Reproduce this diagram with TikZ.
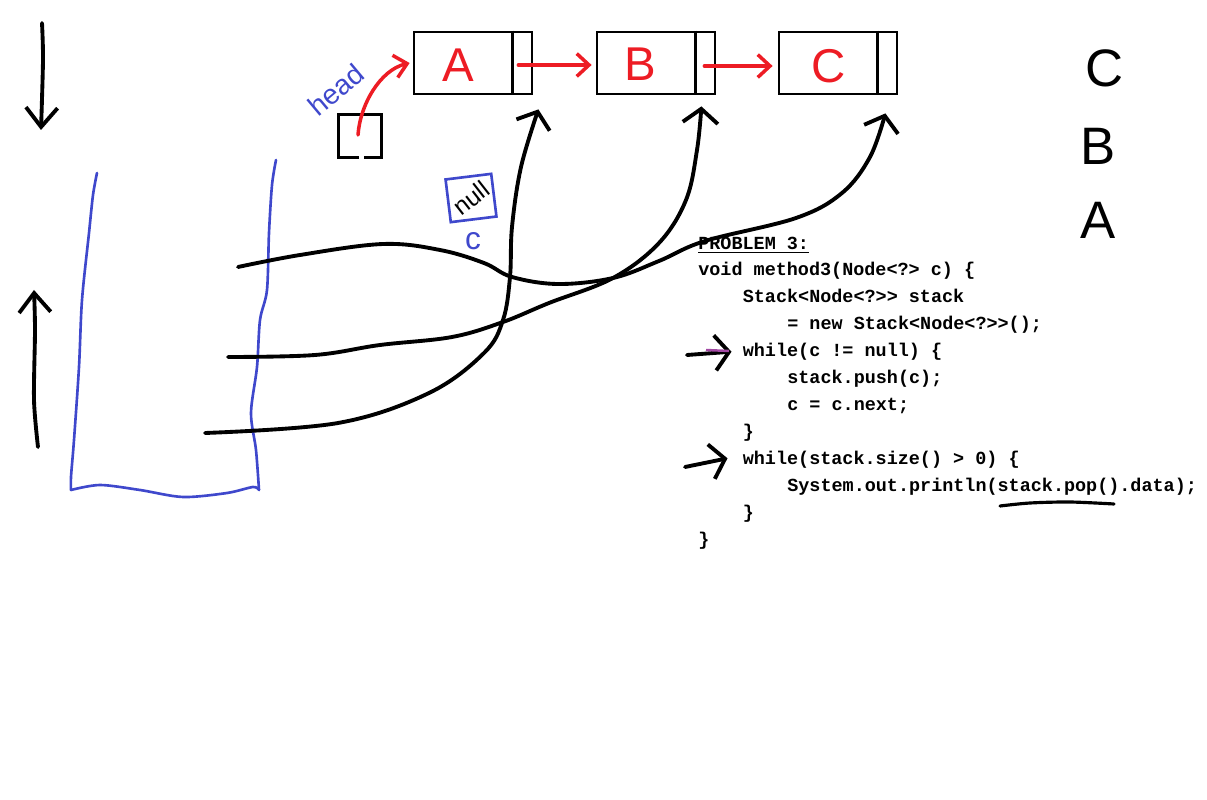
\documentclass[tikz,border=0pt]{standalone}
\usepackage{fontspec}
\setmonofont{Liberation Mono}
\newfontfamily\handfont{Liberation Sans}
\usetikzlibrary{arrows.meta,calc,positioning}
\definecolor{paintred}{RGB}{237,28,36}
\definecolor{paintblue}{RGB}{63,72,204}
\definecolor{paintpurple}{RGB}{163,73,164}

\begin{document}
\begin{tikzpicture}[x=0.02cm, y=-0.02cm,
  listnode/.style={draw, line width=1.6pt, minimum width=2.36cm, minimum height=1.24cm, inner sep=0pt},
  redletter/.style={text=paintred, font=\handfont\fontsize{27}{27}\selectfont},
  bigletter/.style={font=\handfont\fontsize{30}{30}\selectfont},
  pen/.style={line width=2.2pt, line cap=round, line join=round},
  bluepen/.style={draw=paintblue, line width=1.5pt, line cap=round, line join=round},
  redpen/.style={draw=paintred, line width=2pt, line cap=round, -{Straight Barb[length=7pt,width=13pt]}},
  barb/.style={-{Straight Barb[length=8pt,width=20pt]}},
  bigbarb/.style={-{Straight Barb[length=11pt,width=18pt]}},
  code/.style={font=\ttfamily\bfseries\fontsize{10.5}{12}\selectfont, anchor=base west, inner sep=0pt}]

\useasboundingbox (0,0) rectangle (1207,800);

% linked list
\node[listnode] (A) at (473,63) {};
\node[listnode] (B) at (656,63) {};
\node[listnode] (C) at (838,63) {};
\foreach \n in {A,B,C}
  \draw[line width=1.6pt] ($(\n.north east)+(-21,0)$) -- ($(\n.south east)+(-21,0)$);
\node[redletter] (la) at (458,65) {A};
\node[redletter] (lb) at (640,64) {B};
\node[redletter] (lc) at (829,66) {C};

\draw[redpen] ($(A.east)+(-15,2)$) -- ($(B.west)+(-4,2)$);
\draw[redpen] ($(B.east)+(-12,3)$) -- ($(C.west)+(-5,3)$);

% head pointer
\node[minimum size=0.84cm, inner sep=0pt] (headbox) at (360,136) {};
\draw[line width=1.6pt] ($(headbox.south)+(-1,0)$) -| (headbox.north west) -- (headbox.north east)
  |- ($(headbox.south)+(4,0)$);
\node[text=paintblue, rotate=40, font=\handfont\fontsize{16}{16}\selectfont] (headlbl) at (336,90) {head};
\draw[redpen] ($(headbox.center)+(-2,-1)$) .. controls (360,105) and (380,70) .. ($(A.west)+(-3,0)$);

% null and c
\node[draw=paintblue, line width=1.5pt, minimum width=0.92cm, minimum height=0.86cm, rotate=7] (nullbox) at (471,198) {};
\node[rotate=38, font=\handfont\fontsize{14}{14}\selectfont] (nulltxt) at (nullbox) {null};
\node[text=paintblue, font=\handfont\fontsize{18}{18}\selectfont] (clbl) at (473,241) {c};

% stack
\draw[bluepen] plot[smooth] coordinates {(97,173) (93,195) (89,233) (82,300) (79,367) (74,440) (71,477) (71,490)};
\draw[bluepen] plot[smooth] coordinates {(71,490) (100,485) (140,490) (183,497) (227,493) (253,487) (259,490)};
\draw[bluepen] plot[smooth] coordinates {(259,490) (256,450) (251,413) (257,367) (260,320) (267,290) (269,233) (272,185) (276,160)};

\draw[pen, bigbarb] plot[smooth] coordinates {(42,23) (43,60) (41,130)};
\draw[pen, bigbarb] plot[smooth] coordinates {(38,447) (34,400) (35,330) (34,290)};

% pointers from the stack to the nodes
\coordinate (sA) at (205,433);
\coordinate (sB) at (228,357);
\coordinate (sC) at (238,267);
\coordinate (tipA) at ($(A.south east)+(5,14)$);
\coordinate (tipB) at ($(B.south east)+(-15,11)$);
\coordinate (tipC) at ($(C.south east)+(-13,18)$);
\draw[pen, barb] plot[smooth, tension=0.6] coordinates {(sA) (338,423) (429,393) (484,353) (503,320) (510,277) (512,227) (521,167) (tipA)};
\draw[pen, barb] plot[smooth, tension=0.6] coordinates {(sB) (315,355) (380,345) (452,337) (503,322) (549,303) (613,278) (659,243) (686,200) (697,150) (tipB)};
\draw[pen, barb] plot[smooth, tension=0.6] coordinates {(sC) (300,255) (383,244) (440,250) (484,263) (512,277) (558,284) (613,278) (659,261) (705,241) (796,218) (842,193) (870,157) (tipC)};

% popped order
\node[bigletter] (oc) at (1105,68) {C};
\node[bigletter] (ob) at (1098,146) {B};
\node[bigletter] (oa) at (1098,220) {A};

% code
\node[code] (title) at (698,250) {\underline{PROBLEM 3:}};
\foreach \n/\ind/\txt in {1/0/{void method3(Node<?> c) \{},
    2/1/{Stack<Node<?>> stack}, 3/2/{= new Stack<Node<?>>();},
    4/1/{while(c != null) \{}, 5/2/{stack.push(c);}, 6/2/{c = c.next;},
    7/1/{\}}, 8/1/{while(stack.size() > 0) \{},
    9/2/{System.out.println(stack.pop().data);}, 10/1/{\}}, 11/0/{\}}}
  \node[code] (code\n) at ({698+44.5*\ind}, {276+26.9*(\n-1)}) {\txt};

\draw[pen, barb] (687,355) -- ($(code4.base west)+(-11,-5)$);
\draw[draw=paintpurple, line width=1.4pt] (706,350) -- (729,351);
\draw[pen, barb] (685,467) -- ($(code8.base west)+(-15,-6)$);
\draw[pen, line width=1.8pt] plot[smooth] coordinates {(1000,506) (1030,503) (1070,502) (1114,504)};
\end{tikzpicture}
\end{document}
